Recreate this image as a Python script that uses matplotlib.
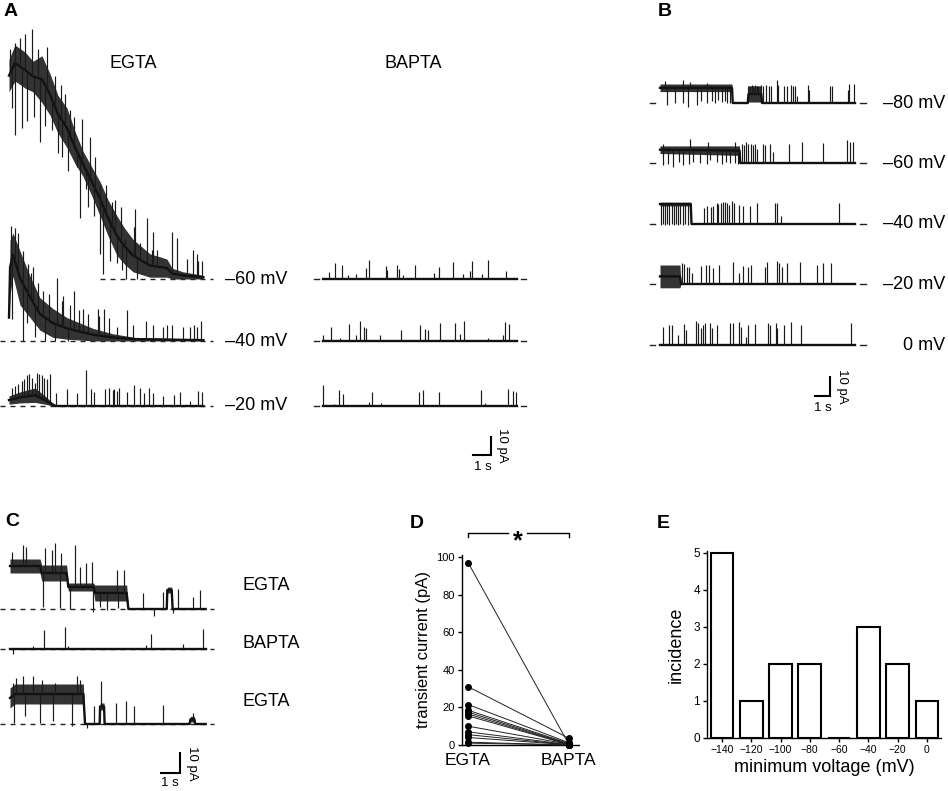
import numpy as np
import matplotlib
matplotlib.use('Agg')
import matplotlib.pyplot as plt

plt.rcParams['font.family'] = ['Liberation Sans', 'DejaVu Sans']

W, H = 948, 791

# ---------------- panel A traces (time in s, current in pA above baseline) ----------------
a_dur = 10.8
a_voltages = ['\u201360 mV', '\u201340 mV', '\u201320 mV']

# EGTA -60 mV: decaying band + spikes
a60e_band_t = [0.0, 0.33, 0.9, 1.33, 1.83, 2.28, 2.72, 3.22, 3.67, 4.11, 4.61, 5.06, 5.5, 6.0,
               6.44, 6.89, 7.83, 8.5, 8.78, 9.06, 9.67, 10.8]
a60e_band_hi = [122, 130, 126, 121, 124, 114, 102, 95, 82, 71, 62, 54, 44, 35, 28, 22, 14, 12, 11, 6, 4, 2]
a60e_band_lo = [104, 110, 106, 104, 98, 91, 81, 73, 64, 57, 46, 35, 24, 13, 8, 4, 1, 1, 1, 0, 0, 0]
a60e_spk_t = [0.05, 0.33, 0.6, 0.89, 1.28, 1.6, 2.11, 2.56, 2.9, 3.11, 3.39, 3.6, 4.06, 4.5, 4.8, 5.06,
              5.4, 5.72, 5.9, 6.2, 6.44, 6.94, 7.0, 7.28, 7.67, 7.94, 8.0, 8.22, 9.06, 9.33, 9.89,
              10.2, 10.44, 10.5, 10.72,
              0.15, 0.33, 0.72, 1.0, 1.4, 1.72, 2.0, 2.39, 2.7, 2.94, 3.3, 3.78, 3.94, 4.3, 4.39,
              4.7, 5.06, 5.22, 5.6, 6.0, 6.3, 6.5, 7.1]
a60e_spk_a = [128, 131, 134, 136, 139, 128, 129, 113, 108, 103, 94, 90, 89, 79, 68, 53,
              52, 43, 44, 40, 22, 29, 39, 20, 34, 16, 26, 16, 26, 23, 11,
              16, 14, 10, 10,
              95, 80, 84, 88, 90, 76, 85, 83, 70, 68, 60, 62, 34, 50, 40,
              35, 14, 3, 10, 9, 5, 0, 0]

# EGTA -40 mV
a40e_band_t = [0.0, 0.06, 0.22, 0.61, 1.17, 1.72, 2.44, 3.22, 3.94, 4.67, 5.78, 7.0, 10.8]
a40e_band_hi = [14, 56, 60, 50, 36, 24, 18, 13, 10, 7, 4, 2, 1]
a40e_band_lo = [12, 26, 36, 20, 13, 6, 2, 1, 0.5, 0, 0, 0, 0]
a40e_spk_t = [0.11, 0.33, 0.5, 0.8, 1.06, 1.2, 1.33, 1.61, 1.89, 2.2, 2.67, 2.94, 3.0, 3.4, 3.61,
              3.9, 4.11, 4.4, 4.94, 5.0, 5.28, 5.56, 6.0, 6.56, 6.89, 7.61, 8.0, 8.56, 8.78,
              9.06, 9.67, 10.06, 10.28, 10.44, 10.67,
              0.17, 0.78, 1.0, 1.44, 2.0, 2.56, 3.3]
a40e_spk_a = [64, 63, 60, 50, 43, 38, 41, 32, 28, 26, 35, 22, 25, 20, 28,
              17, 18, 15, 18, 14, 18, 13, 8, 17, 9, 11, 9, 8, 9,
              9, 8, 8, 9, 8, 11,
              12, 0, 10, 2, 0, 0, 0]

# EGTA -20 mV
a20e_band_t = [0.0, 0.61, 1.44, 2.0, 2.44, 2.6, 10.8]
a20e_band_hi = [5.6, 7.8, 10, 5.6, 1.5, 0, 0]
a20e_band_lo = [1, 1.7, 2, 1, 0, 0, 0]
a20e_spk_t = [0.15, 0.33, 0.52, 0.70, 0.83, 1.02, 1.13, 1.26, 1.44, 1.57, 1.69, 1.81, 1.94, 2.09,
              2.28, 2.61, 3.24, 3.76, 4.28, 4.54, 4.72, 5.31, 5.57, 5.76, 5.85, 5.98, 6.13, 6.54,
              6.94, 7.28, 7.5, 7.8, 7.98, 8.57, 9.17, 9.5, 10.06, 10.52, 10.7]
a20e_spk_a = [10.2, 11.1, 12.0, 13.9, 14.8, 17.2, 17.6, 15.7, 13.0, 18.5, 18.0, 17.2, 15.7, 14.8,
              17.6, 7.4, 9.3, 7.4, 19.8, 9.3, 8.0, 9.3, 10.2, 8.7, 9.3, 8.3, 10.2, 8.0,
              11.7, 10.2, 7.4, 9.8, 7.4, 5.6, 6.1, 8.0, 2.8, 8.3, 8.0]

# BAPTA traces (flat baseline, brief openings)
a60b_spk_t = [0.33, 0.69, 1.04, 1.39, 1.85, 2.37, 2.54, 3.48, 3.57, 4.11, 4.20, 4.44, 5.13, 6.15,
              6.44, 7.22, 7.78, 8.15, 8.26, 8.85, 9.17, 10.19]
a60b_spk_a = [3.7, 8.9, 8.0, 2.4, 3.0, 6.1, 10.7, 7.4, 4.8, 8.0, 5.6, 2.4, 8.0, 3.3,
              6.7, 9.4, 3.0, 4.3, 9.8, 3.0, 10.4, 4.3]
a40b_spk_t = [0.02, 0.46, 0.93, 1.43, 1.81, 2.04, 2.30, 2.37, 3.15, 4.35, 5.37, 5.65, 5.81, 6.52,
              7.35, 7.59, 7.83, 9.17, 10.0, 10.13, 10.35]
a40b_spk_a = [3.1, 7.8, 1.9, 9.3, 3.1, 10.9, 7.8, 7.4, 3.1, 6.3, 8.7, 6.9, 6.3, 10.2,
              10.2, 4.1, 11.1, 1.9, 3.1, 10.6, 9.3]
a20b_spk_t = [0.02, 0.59, 0.87, 1.11, 2.56, 2.74, 3.24, 5.31, 5.54, 6.43, 8.78, 8.98, 10.26, 10.54,
              10.74]
a20b_spk_a = [11.5, 1.3, 9.1, 6.9, 2.2, 7.8, 1.7, 7.8, 9.1, 7.8, 8.7, 1.7, 9.6, 8.3, 7.6]

# ---------------- panel B traces ----------------
b_dur = 13.0
b_voltages = ['\u201380 mV', '\u201360 mV', '\u201340 mV', '\u201320 mV', '0 mV']

b80_band_t = [0, 4.8, 4.85, 5.85, 5.9, 6.75, 6.8, 13.0]
b80_band_hi = [10, 10, 0, 0, 9, 9, 0, 0]
b80_band_lo = [6, 6, 0, 0, 0.5, 0.5, 0, 0]
b80_spk_t = [0.33, 1.56, 2.0, 3.11, 5.89, 6.0, 6.11, 6.22, 6.33, 6.44, 6.56, 6.71, 6.89, 7.07,
             7.24, 7.4, 7.78, 7.89, 8.29, 8.47, 8.71, 8.84, 9.0, 9.16, 9.84, 9.96, 11.33, 11.44,
             12.51, 12.62, 12.96,
             0.44, 1.0, 1.51, 1.89, 2.44, 2.71, 3.11, 3.44, 3.67, 3.89, 4.11, 4.33, 4.49, 4.67]
b80_spk_a = [11.4, 12.3, 10.9, 10.5, 8.8, 9.1, 9.5, 8.8, 9.3, 9.1, 9.1, 9.6, 9.1, 9.6,
             9.1, 8.8, 11.9, 9.6, 8.8, 9.1, 9.6, 9.1, 8.8, 3.9, 9.6, 7.0, 9.1, 8.8,
             7.0, 10.2, 10.2,
             -0.9, 0, 0, -2.1, -0.9, 0.9, 0, 0.9, 0, 1.4, 0.4, 0.9, 0, 0]

b60_band_t = [0, 5.3, 5.35, 13.0]
b60_band_hi = [9, 9, 0, 0]
b60_band_lo = [5, 4, 0, 0]
b60_spk_t = [0.22, 2.0, 3.22, 5.0, 5.44, 5.6, 5.73, 5.89, 6.04, 6.22, 6.33, 6.44, 6.84, 7.0,
             7.33, 7.51, 8.62, 9.44, 10.84, 12.49, 12.67, 12.84,
             0.18, 0.56, 0.89, 1.29, 1.56, 1.96, 2.22, 2.67, 3.11, 3.33, 3.78, 4.11, 4.4,
             4.67, 5.0, 5.22]
b60_spk_a = [9.8, 12.8, 11.1, 11.1, 9.8, 9.3, 11.1, 9.8, 10.2, 9.3, 9.8, 7.5, 9.8, 9.3,
             9.8, 5.8, 9.8, 11.1, 10.5, 12.3, 11.1, 11.1,
             -1.2, -0.4, -2.1, 0.5, -1.2, -0.4, 0.5, 0, -0.4, 1.4, 0.5, -0.4, 0.5,
             0, 0, -0.4]

b40_band_t = [0, 2.05, 2.1, 13.0]
b40_band_hi = [11.5, 11.5, 0, 0]
b40_band_lo = [9.5, 9.5, 0, 0]
b40_spk_t = [2.93, 3.11, 3.38, 3.56, 3.78, 3.89, 4.04, 4.18, 4.33, 4.44, 4.58, 4.78, 4.93, 5.24,
             5.51, 6.0, 6.49, 7.67, 7.82, 8.04, 11.96,
             0.09, 0.22, 0.33, 0.49, 0.62, 0.78, 0.91, 1.04, 1.2, 1.36, 1.51, 1.69, 1.89]
b40_spk_a = [8.6, 9.3, 8.9, 9.6, 11.1, 10.7, 11.1, 11.4, 11.4, 11.1, 10.2, 11.9, 11.1, 10.2,
             9.3, 9.3, 11.1, 11.1, 11.1, 4.4, 11.1,
             -0.5, 0, -0.5, 0, -0.5, 0, -0.5, 0, -0.5, 0, -0.5, 0, -0.5]

b20_band_t = [0, 1.33, 1.4, 13.0]
b20_band_hi = [10, 10, 0, 0]
b20_band_lo = [-2, -2, 0, 0]
b20_spk_t = [1.44, 1.62, 1.78, 1.96, 2.11, 2.71, 3.07, 3.29, 3.51, 3.96, 4.84, 5.29, 5.51, 5.89,
             6.04, 7.0, 7.16, 7.82, 7.96, 8.11, 8.44, 9.33, 10.49, 10.84, 11.38]
b20_spk_a = [10.9, 10.5, 9.1, 9.1, 5.6, 9.5, 10.0, 10.0, 8.2, 10.0, 11.4, 5.6, 9.5, 9.1,
             10.0, 9.1, 11.8, 12.3, 11.2, 9.1, 10.9, 11.8, 10.0, 10.9, 10.9]

b0_spk_t = [0.22, 0.58, 0.78, 1.22, 1.6, 1.73, 2.4, 2.56, 2.71, 2.84, 3.0, 3.33, 3.44, 3.82,
            4.67, 4.84, 5.27, 5.38, 5.73, 5.89, 6.33, 7.22, 7.33, 7.73, 7.82, 8.27, 8.76, 9.38,
            12.73]
b0_spk_a = [9.6, 10.5, 10.5, 5.3, 11.1, 7.9, 12.8, 11.8, 8.8, 10.5, 11.4, 11.8, 8.8, 10.5,
            11.8, 11.4, 12.3, 9.6, 4.4, 10.5, 11.1, 11.4, 10.5, 11.4, 8.8, 10.5, 11.9, 10.5,
            11.4]

# ---------------- panel C traces ----------------
c_dur = 10.3
c_labels = ['EGTA', 'BAPTA', 'EGTA']

c1_band_t = [0, 1.58, 1.67, 2.98, 3.07, 4.39, 4.47, 6.14, 6.23, 8.25, 8.28, 8.51, 8.56, 10.3]
c1_band_hi = [25, 25, 22, 22, 13, 13, 12, 12, 0, 0, 11, 11, 0, 0]
c1_band_lo = [18, 18, 14, 14, 9, 9, 4, 4, 0, 0, 8, 8, 0, 0]
c1_spk_t = [0.09, 0.67, 0.84, 1.84, 2.19, 2.37, 2.68, 3.42, 3.68, 4.0, 4.3, 5.61, 6.0, 7.02,
            8.04, 8.86, 9.61, 10.0,
            1.72, 2.63, 3.16, 4.39, 4.74, 5.09, 5.7, 7.58, 8.6]
c1_spk_a = [28.7, 32, 31.2, 30.3, 29.5, 32.8, 27.8, 32, 21.2, 22.8, 23.7, 19.5, 19.5, 7.8,
            8.7, 9.8, 6.2, 9.5,
            1.2, 0.3, 0, -1.3, 1.2, -0.5, 0.3, -3.5, -2.2]

c2_spk_t = [0.14, 1.23, 1.79, 2.89, 3.07, 7.16, 7.4, 9.09, 10.14]
c2_spk_a = [-2.3, 1.3, 9.7, 10.8, 1.7, 2.2, 7.7, 2.7, 10.2]

c3_band_t = [0, 0.26, 3.86, 3.95, 4.72, 4.74, 4.95, 4.98, 9.45, 9.5, 9.7, 9.75, 10.3]
c3_band_hi = [18, 20, 20, 0, 0, 10.5, 10.5, 0, 0, 3.8, 3.8, 0, 0]
c3_band_lo = [8, 10, 10, 0, 0, 7, 7, 0, 0, 1, 1, 0, 0]
c3_spk_t = [0.14, 0.32, 0.67, 1.23, 1.67, 2.37, 3.51, 3.68, 4.42, 4.77, 5.58, 6.11, 6.53, 8.04,
            9.61,
            0.21, 0.79, 1.58, 2.25, 3.25, 4.04, 4.74]
c3_spk_a = [20.5, 23, 23.8, 23.8, 22.2, 20.5, 23.8, 22.2, 8.8, 21.3, 10.5, 11.3, 8.8, 9.7,
            5.5,
            0.5, 3.8, 0.5, 1.3, -0.8, -2, 2.2]

# ---------------- panel D ----------------
d_groups = ['EGTA', 'BAPTA']
d_egta = [97, 31, 21.5, 18.5, 17.5, 16.5, 15.5, 10, 7, 5.5, 4, 1.5, 1]
d_bapta = [0.3, 3.6, 1.2, 0.8, 0.5, 0.3, 0.2, 0.4, 0.2, 0.1, 0.1, 0.0, 0.0]

# ---------------- panel E ----------------
e_volt = [-140, -120, -100, -80, -60, -40, -20, 0]
e_count = [5, 1, 2, 2, 0, 3, 2, 1]

fig = plt.figure(figsize=(W / 100, H / 100), dpi=100)


def px_axes(x0, y0, x1, y1):
    return fig.add_axes([x0 / W, 1 - y1 / H, (x1 - x0) / W, (y1 - y0) / H])


def ftext(x, y, s, **kw):
    fig.text(x / W, 1 - y / H, s, **kw)


def trace_panel(x0, y0, x1, y1, px_s, px_pa):
    ax = px_axes(x0, y0, x1, y1)
    ax.set_xlim(0, (x1 - x0) / px_s)
    ax.set_ylim(0, (y1 - y0) / px_pa)
    ax.axis('off')
    ax.geo = (x0, y1, px_s, px_pa)
    return ax


def to_data(ax, px, py):
    x0, y1, px_s, px_pa = ax.geo
    return (px - x0) / px_s, (y1 - py) / px_pa


def draw_trace(ax, sx, by, dur, band_t=None, band_lo=None, band_hi=None, spk_t=(), spk_a=()):
    ox, oy = to_data(ax, sx, by)
    if band_t is None:
        band_t, band_lo, band_hi = [0, dur], [0, 0], [0, 0]
    bt = np.asarray(band_t, float) + ox
    lo = np.asarray(band_lo, float) + oy
    hi = np.asarray(band_hi, float) + oy
    mid = (lo + hi) / 2
    ax.fill_between(bt, lo, hi, color='#333333', lw=0, zorder=2)
    ax.plot(bt, mid, color='#111111', lw=1.7, zorder=3)
    st = np.asarray(spk_t, float) + ox
    ax.vlines(st, np.interp(st, bt, mid), np.asarray(spk_a, float) + oy,
              color='#1a1a1a', lw=0.85, zorder=3)


def dashed(ax, sx, by, t0, t1):
    ox, oy = to_data(ax, sx, by)
    ax.plot([ox + t0, ox + t1], [oy, oy], color='#222222', lw=1.0,
            dashes=(3.6, 3.6), zorder=1)


def end_dashes(ax, sx, by, dur, gap, length):
    ox, oy = to_data(ax, sx, by)
    for a, b in [(-gap - length, -gap), (dur + gap, dur + gap + length)]:
        ax.plot([ox + a, ox + b], [oy, oy], color='#222222', lw=1.0, zorder=1)


def scale_bar(ax, cx, cy):
    x, y = to_data(ax, cx, cy)
    ax.plot([x - 1, x, x], [y, y, y + 10], color='k', lw=1.5,
            solid_joinstyle='miter', clip_on=False)


label_kw = dict(fontsize=13, va='center')
letter_kw = dict(fontsize=14, fontweight='bold', va='top')

# ---------- A ----------
axA = trace_panel(0, 20, 540, 480, 18.0, 1.8)
a_base = [279, 341, 406]
egta_x, bapta_x = 9, 323
a_egta = [(a60e_band_t, a60e_band_lo, a60e_band_hi, a60e_spk_t, a60e_spk_a),
          (a40e_band_t, a40e_band_lo, a40e_band_hi, a40e_spk_t, a40e_spk_a),
          (a20e_band_t, a20e_band_lo, a20e_band_hi, a20e_spk_t, a20e_spk_a)]
a_bapta = [(a60b_spk_t, a60b_spk_a), (a40b_spk_t, a40b_spk_a), (a20b_spk_t, a20b_spk_a)]
dash_start = [5.05, -0.5, -0.5]
for i, by in enumerate(a_base):
    dashed(axA, egta_x, by, dash_start[i], 11.35)
    bt, blo, bhi, st, sa = a_egta[i]
    draw_trace(axA, egta_x, by, a_dur, bt, blo, bhi, st, sa)
    end_dashes(axA, bapta_x, by, a_dur, 0.2, 0.3)
    draw_trace(axA, bapta_x, by, a_dur, spk_t=a_bapta[i][0], spk_a=a_bapta[i][1])
    ftext(225, by, a_voltages[i], ha='left', **label_kw)
scale_bar(axA, 491, 455)
ftext(483, 461, '1 s', ha='center', va='top', fontsize=9.5)
ftext(496, 445, '10 pA', ha='left', va='center', rotation=270, fontsize=9.5)
ftext(133, 64, 'EGTA', ha='center', **label_kw)
ftext(413, 64, 'BAPTA', ha='center', **label_kw)
ftext(4, 3, 'A', **letter_kw)

# ---------- B ----------
axB = trace_panel(640, 60, 880, 420, 15.0, 1.9)
b_base = [103, 163, 224, 284, 345]
b_traces = [(b80_band_t, b80_band_lo, b80_band_hi, b80_spk_t, b80_spk_a),
            (b60_band_t, b60_band_lo, b60_band_hi, b60_spk_t, b60_spk_a),
            (b40_band_t, b40_band_lo, b40_band_hi, b40_spk_t, b40_spk_a),
            (b20_band_t, b20_band_lo, b20_band_hi, b20_spk_t, b20_spk_a),
            (None, None, None, b0_spk_t, b0_spk_a)]
for i, by in enumerate(b_base):
    end_dashes(axB, 660, by, b_dur, 0.35, 0.35)
    bt, blo, bhi, st, sa = b_traces[i]
    draw_trace(axB, 660, by, b_dur, bt, blo, bhi, st, sa)
    ftext(945, by, b_voltages[i], ha='right', **label_kw)
scale_bar(axB, 830, 396)
ftext(823, 402, '1 s', ha='center', va='top', fontsize=9.5)
ftext(836, 386, '10 pA', ha='left', va='center', rotation=270, fontsize=9.5)
ftext(658, 3, 'B', **letter_kw)

# ---------- C ----------
axC = trace_panel(0, 520, 240, 800, 19.0, 2.0)
c_base = [609, 649, 724]
c_traces = [(c1_band_t, c1_band_lo, c1_band_hi, c1_spk_t, c1_spk_a),
            (None, None, None, c2_spk_t, c2_spk_a),
            (c3_band_t, c3_band_lo, c3_band_hi, c3_spk_t, c3_spk_a)]
c_text_y = [586, 644, 701]
for i, by in enumerate(c_base):
    dashed(axC, 10, by, -0.5, 10.75)
    bt, blo, bhi, st, sa = c_traces[i]
    draw_trace(axC, 10, by, c_dur, bt, blo, bhi, st, sa)
    ftext(243, c_text_y[i], c_labels[i], ha='left', **label_kw)
scale_bar(axC, 180, 773)
ftext(170, 783, '1 s', ha='center', va='center', fontsize=9.5)
ftext(186, 763, '10 pA', ha='left', va='center', rotation=270, fontsize=9.5)
ftext(5, 513, 'C', **letter_kw)

# ---------- D ----------
axD = px_axes(462, 555, 579, 745)
for e, b in zip(d_egta, d_bapta):
    axD.plot([0, 1], [e, b], color='#222222', lw=0.7, marker='o', ms=4,
             mfc='k', mec='k', clip_on=False, zorder=3)
axD.set_xlim(-0.06, 1.1)
axD.set_ylim(0, 101)
for s in ['top', 'right']:
    axD.spines[s].set_visible(False)
for s in ['left', 'bottom']:
    axD.spines[s].set_linewidth(1.0)
axD.set_yticks(range(0, 101, 20))
axD.tick_params(axis='y', direction='out', length=3, width=1, labelsize=8, pad=2)
axD.set_xticks([0, 1])
axD.set_xticklabels(d_groups, fontsize=12.5)
axD.tick_params(axis='x', length=0, pad=6)
axD.set_ylabel('transient current (pA)', fontsize=12, labelpad=4)
# significance bracket
yb = 112.8
axD.plot([0, 0, 0.40], [yb - 2.2, yb, yb], color='k', lw=1.0, clip_on=False)
axD.plot([0.58, 1, 1], [yb, yb, yb - 2.2], color='k', lw=1.0, clip_on=False)
axD.text(0.49, yb - 4.5, '*', ha='center', va='center', fontsize=18, fontweight='bold')
ftext(410, 515, 'D', **letter_kw)

# ---------- E ----------
axE = px_axes(707, 551, 941, 738)
axE.bar(e_volt, e_count, width=15.5, color='white', edgecolor='k', lw=1.5, zorder=2)
axE.set_xlim(-150.2, 9.6)
axE.set_ylim(0, 5.05)
for s in ['top', 'right']:
    axE.spines[s].set_visible(False)
for s in ['left', 'bottom']:
    axE.spines[s].set_linewidth(1.0)
axE.set_xticks(e_volt)
axE.set_xticklabels([str(v).replace('-', '\u2212') for v in e_volt])
axE.tick_params(axis='x', direction='out', length=3, width=1, labelsize=7.5, pad=2)
axE.set_yticks(range(6))
axE.tick_params(axis='y', direction='out', length=3, width=1, labelsize=8.5, pad=2)
axE.set_xlabel('minimum voltage (mV)', fontsize=13, labelpad=3)
axE.set_ylabel('incidence', fontsize=13, labelpad=6)
ftext(657, 515, 'E', **letter_kw)

fig.savefig('out.png', dpi=100)
